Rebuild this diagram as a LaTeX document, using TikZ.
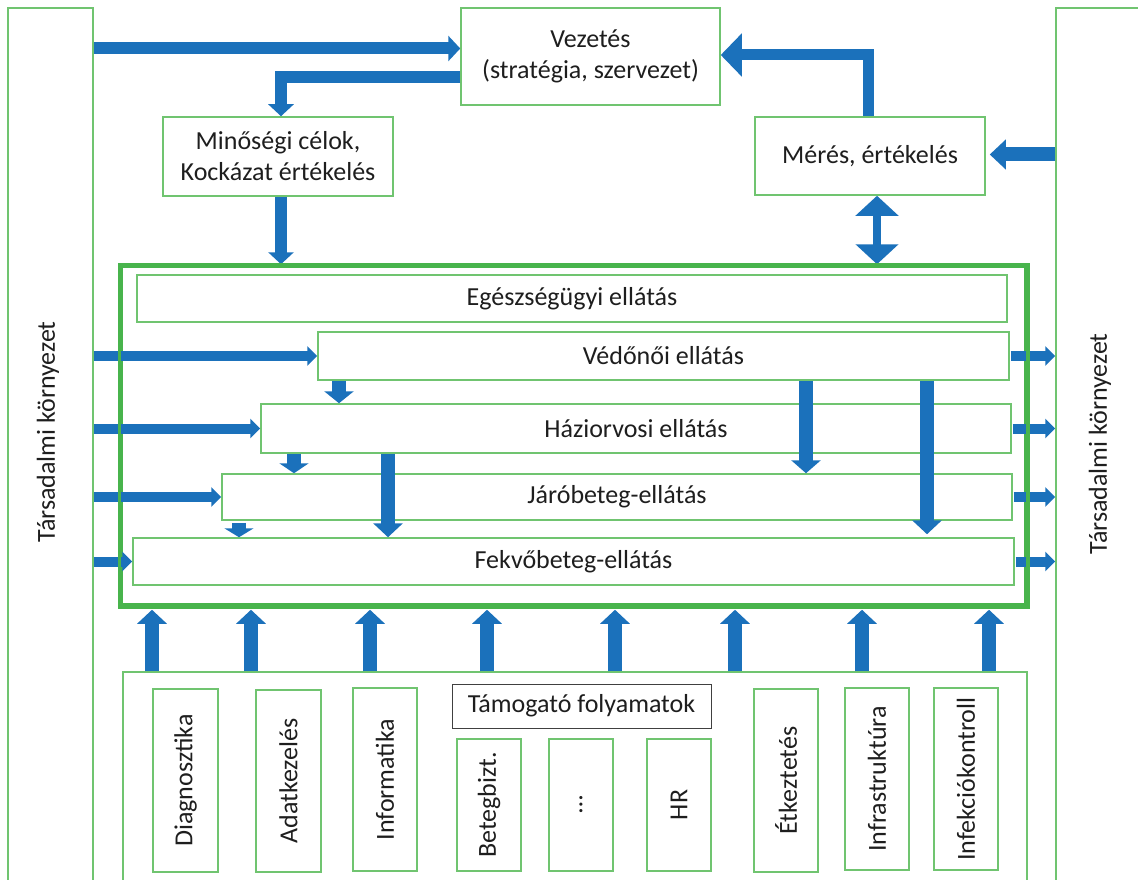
\documentclass[tikz,border=0pt]{standalone}
\usepackage{fontspec}
\setmainfont{Carlito}
\usetikzlibrary{arrows.meta}

\definecolor{boxgreen}{RGB}{112,196,112}
\definecolor{framegreen}{RGB}{72,180,76}
\definecolor{flowblue}{RGB}{27,113,187}
\definecolor{txt}{RGB}{30,30,30}

\tikzset{
  box/.style={draw=boxgreen, line width=1.5pt, fill=white, inner sep=0pt,
    text=txt, font=\fontsize{26}{31}\selectfont, align=center},
  vbox/.style={box, rotate=90},
  headbox/.style={box, draw=txt!85, line width=1pt},
  envlabel/.style={rotate=90, text=txt, font=\fontsize{26}{31}\selectfont},
  topflow/.style={flowblue, line width=12pt, line join=miter,
    -{Triangle[width=25pt,length=12pt]}},
  bigflow/.style={flowblue, line width=11pt, line join=miter,
    -{Triangle[width=42pt,length=21pt]}},
  midflow/.style={flowblue, line width=14pt,
    -{Triangle[width=29pt,length=16pt]}},
  dblflow/.style={flowblue, line width=8pt,
    {Triangle[width=42pt,length=20pt]}-{Triangle[width=42pt,length=20pt]}},
  sideflow/.style={flowblue, line width=10pt,
    -{Triangle[width=19pt,length=10pt]}},
  downflow/.style={flowblue, line width=14pt,
    -{Triangle[width=29pt,length=#1]}},
  downflow/.default=12pt,
  upflow/.style={flowblue, line width=14pt, shorten >=3pt,
    -{Triangle[width=29pt,length=14pt]}},
}

\begin{document}
\begin{tikzpicture}[x=1pt,y=-1pt]
\useasboundingbox (0,0) rectangle (1138,880);
\fill[white] (0,0) rectangle (1138,880);
\clip (0,0) rectangle (1138,880);

% social environment on both sides
\node[box, minimum width=85pt, minimum height=900pt] (lenv) at (50.5,458) {};
\node[box, minimum width=150pt, minimum height=900pt] (renv) at (1131,458) {};
\node[envlabel] (ltxt) at (48,432) {Társadalmi környezet};
\node[envlabel] (rtxt) at (1100,444) {Társadalmi környezet};

% management level
\node[box, minimum width=259pt, minimum height=97pt] (vez) at (590.5,56.5)
  {Vezetés\\(stratégia, szervezet)};
\node[box, minimum width=230pt, minimum height=79pt] (cel) at (278,156.5)
  {Minőségi célok,\\Kockázat értékelés};
\node[box, minimum width=230pt, minimum height=78pt] (mer) at (870,156)
  {Mérés, értékelés};

% care levels
\node[box, minimum width=870pt, minimum height=47pt] (egesz) at (572,298.5) {Egészségügyi ellátás};
\node[box, minimum width=691pt, minimum height=48pt] (ved) at (663.5,356) {Védőnői ellátás};
\node[box, minimum width=750pt, minimum height=49pt] (hazi) at (636,428.5) {Háziorvosi ellátás};
\node[box, minimum width=790pt, minimum height=46pt] (jaro) at (617,497) {Járóbeteg-ellátás};
\node[box, minimum width=881pt, minimum height=47pt] (fekvo) at (573.5,561.5) {Fekvőbeteg-ellátás};

% support processes
\node[box, minimum width=904pt, minimum height=240pt] (sup) at (575,792) {};
\node[vbox, minimum width=183pt, minimum height=65pt] (diag) at (185.5,780.5) {Diagnosztika};
\node[vbox, minimum width=182pt, minimum height=65pt] (adat) at (288.5,781) {Adatkezelés};
\node[vbox, minimum width=183pt, minimum height=64pt] (info) at (385,779.5) {Informatika};
\node[headbox, minimum width=259pt, minimum height=44pt] (tam) at (581.5,706) {Támogató folyamatok};
\node[vbox, minimum width=132pt, minimum height=64pt] (beteg) at (489,805) {Betegbizt.};
\node[vbox, minimum width=132pt, minimum height=64pt] (dots) at (581,805) {…};
\node[vbox, minimum width=132pt, minimum height=64pt] (hr) at (679,805) {HR};
\node[vbox, minimum width=183pt, minimum height=64pt] (etk) at (786,780.5) {Étkeztetés};
\node[vbox, minimum width=182pt, minimum height=64pt] (infra) at (877,779) {Infrastruktúra};
\node[vbox, minimum width=182pt, minimum height=64pt] (infek) at (966,779) {Infekciókontroll};

% frame around the care levels (drawn without fill)
\node[draw=framegreen, line width=3.5pt, inner sep=0pt,
  minimum width=905pt, minimum height=339pt] (cont) at (573.5,435.5) {};

% management flows
\draw[topflow] (lenv.east |- 0,48.5) -- (vez.west |- 0,48.5);
\draw[topflow] (vez.west |- 0,77) -| (cel.north -| 281,0);
\draw[topflow] (cel.south -| 281,0) -- (cont.north -| 281,0);
\draw[bigflow] (mer.north -| 868,0) |- (vez.east |- 0,55);
\draw[midflow, shorten >=4pt] (renv.west |- 0,154.5) -- (mer.east |- 0,154.5);
\draw[dblflow] (mer.south -| 877,0) -- (cont.north -| 877,0);

% inputs from and outputs to the environment
\foreach \b in {ved,hazi,jaro,fekvo}{
  \draw[sideflow] (lenv.east |- \b.west) -- (\b.west);
  \draw[sideflow, shorten <=1pt] (\b.east) -- (renv.west |- \b.east);
}

% referrals between care levels
\draw[downflow] (ved.south -| 339,0) -- (hazi.north -| 339,0);
\draw[downflow=10pt] (hazi.south -| 294,0) -- (jaro.north -| 294,0);
\draw[downflow=9pt] ([yshift=-2pt]jaro.south -| 239,0) -- (fekvo.north -| 239,0);
\draw[downflow=14pt] (hazi.south -| 388,0) -- (fekvo.north -| 388,0);
\draw[downflow=13pt] (ved.south -| 806,0) -- (jaro.north -| 806,0);
\draw[downflow=14pt, shorten >=3pt] (ved.south -| 927,0) -- (fekvo.north -| 927,0);

% support processes feed the care levels
\foreach \x in {152,251,370,487,615,735,862,989}
  \draw[upflow] (sup.north -| \x,0) -- (cont.south -| \x,0);

% frame lines run over the side arrows
\draw[framegreen, line width=3.5pt] (cont.north west) rectangle (cont.south east);
\end{tikzpicture}
\end{document}
